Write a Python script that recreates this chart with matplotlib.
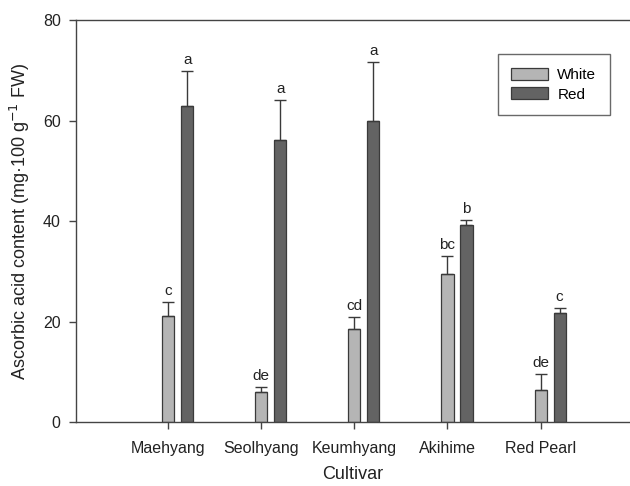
import matplotlib
matplotlib.use("Agg")
import matplotlib.pyplot as plt
import numpy as np

plt.rcParams['font.family'] = ['Liberation Sans', 'DejaVu Sans']

cultivars = ["Maehyang", "Seolhyang", "Keumhyang", "Akihime", "Red Pearl"]
white = [21.1, 5.9, 18.6, 29.4, 6.4]
white_err = [2.8, 1.0, 2.2, 3.6, 3.1]
red = [62.9, 56.1, 59.9, 39.2, 21.7]
red_err = [7.0, 8.0, 11.7, 1.1, 1.0]
white_letters = ["c", "de", "cd", "bc", "de"]
red_letters = ["a", "a", "a", "b", "c"]

fig = plt.figure(figsize=(6.3, 4.86), dpi=100)
ax = fig.add_axes([0.1206, 0.1317, 0.8794, 0.827])

x = np.arange(len(cultivars))
w = 0.13
off = 0.204
edge = "#3a3a3a"
txt = "#222222"
ax.bar(x, white, w, color="#b5b5b5", edgecolor=edge, linewidth=0.9, label="White", zorder=2)
ax.bar(x + off, red, w, color="#636363", edgecolor=edge, linewidth=0.9, label="Red", zorder=2)
ax.errorbar(x, white, yerr=[np.zeros(5), white_err], fmt="none", ecolor=edge, elinewidth=1, capsize=4, capthick=1, zorder=3)
ax.errorbar(x + off, red, yerr=[np.zeros(5), red_err], fmt="none", ecolor=edge, elinewidth=1, capsize=4, capthick=1, zorder=3)

for xi, v, e, t in zip(x, white, white_err, white_letters):
    ax.text(xi, v + e + 0.8, t, ha="center", va="bottom", fontsize=11, color=txt)
for xi, v, e, t in zip(x + off, red, red_err, red_letters):
    ax.text(xi, v + e + 0.8, t, ha="center", va="bottom", fontsize=11, color=txt)

ax.set_xlim(-0.99, 4.96)
ax.set_ylim(0, 80)
ax.set_yticks([0, 20, 40, 60, 80])
ax.set_xticks(x)
ax.set_xticklabels(cultivars)
ax.tick_params(axis="both", direction="out", length=5, width=1, color="#444444", labelsize=11.5, labelcolor=txt)
ax.tick_params(axis="x", pad=9)
ax.tick_params(axis="y", pad=6)
for s in ["left", "bottom", "top"]:
    ax.spines[s].set_color("#444444")
    ax.spines[s].set_linewidth(1)
ax.spines["right"].set_visible(False)

ax.set_xlabel("Cultivar", fontsize=13, color=txt, labelpad=7)
ax.set_ylabel("Ascorbic acid content (mg·100 g$^{-1}$ FW)", fontsize=13, color=txt, labelpad=8)

leg = ax.legend(loc="upper right", bbox_to_anchor=(0.964, 0.915), frameon=True, fancybox=False,
                edgecolor="#444444", fontsize=11, handlelength=2.4, handleheight=0.8,
                borderpad=0.9, labelspacing=0.35, handletextpad=0.6, borderaxespad=0)
leg.get_frame().set_linewidth(1)

fig.savefig("out.png", dpi=100)
